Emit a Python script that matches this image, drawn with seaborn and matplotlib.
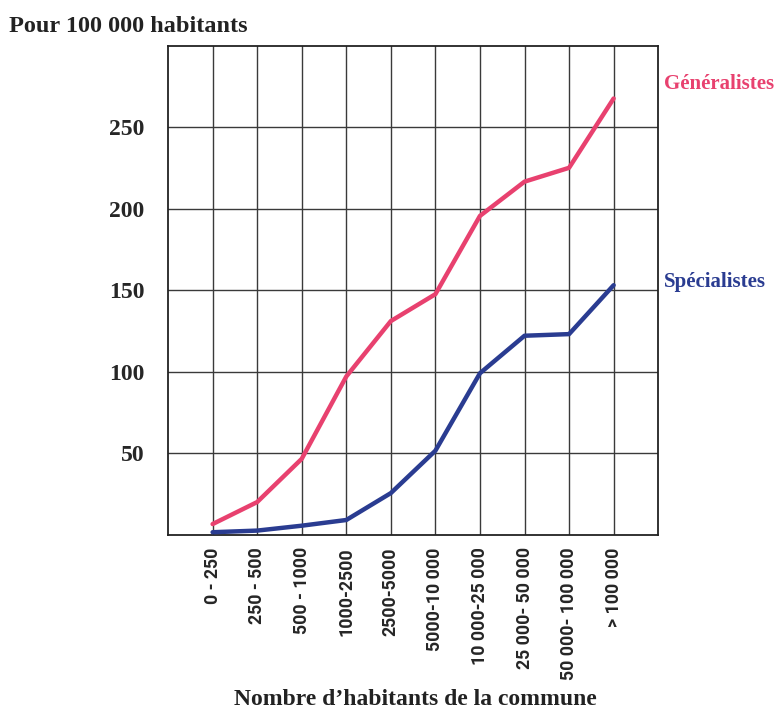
import matplotlib
matplotlib.use("Agg")
import matplotlib.pyplot as plt
import seaborn as sns
import pandas as pd

# Commune size classes (inhabitants)
categories = ["0 - 250", "250 - 500", "500 - 1000", "1000-2500", "2500-5000",
              "5000-10 000", "10 000-25 000", "25 000- 50 000",
              "50 000- 100 000", "> 100 000"]

# Doctors per 100 000 inhabitants
generalistes = [6.5, 20, 46.5, 97, 131, 147.5, 195.5, 216.5, 225, 267.5]
specialistes = [1.5, 2.5, 5.5, 9, 25.5, 51.5, 99, 122, 123, 153]

series_names = ["Généralistes", "Spécialistes"]
colors = {"Généralistes": "#E8416F", "Spécialistes": "#2A3C91"}

y_ticks = [50, 100, 150, 200, 250]

df = pd.DataFrame({
    "classe": categories * 2,
    "pos": list(range(len(categories))) * 2,
    "valeur": generalistes + specialistes,
    "type": [series_names[0]] * len(categories) + [series_names[1]] * len(categories),
})

sns.set_theme(style="white")
serif = ["Liberation Serif", "DejaVu Serif"]
narrow = ["Roboto", "DejaVu Sans"]

fig = plt.figure(figsize=(7.78, 7.11), dpi=100)
ax = fig.add_axes([0.216, 0.248, 0.630, 0.688])

sns.lineplot(data=df, x="pos", y="valeur", hue="type", palette=colors,
             linewidth=3.2, sort=False, legend=False, ax=ax, zorder=3)

ax.set_xlim(-1, len(categories))
ax.set_ylim(0, 300)
ax.set_xticks(range(len(categories)))
ax.set_xticklabels(categories, rotation=90, fontfamily=narrow,
                   fontweight="bold", fontsize=12.8, va="top")
ax.set_yticks(y_ticks)
ax.set_yticklabels([str(v) for v in y_ticks], fontfamily=serif,
                   fontweight="bold", fontsize=17)
ax.tick_params(axis="x", length=0, pad=9)
ax.tick_params(axis="y", length=0, pad=17)

ax.grid(True, color="#3a3a3a", linewidth=1.0)
for s in ax.spines.values():
    s.set_visible(True)
    s.set_color("#222222")
    s.set_linewidth(1.3)

ax.set_xlabel("")
ax.set_ylabel("")

fig.text(0.534, 0.016, "Nombre d\u2019habitants de la commune", fontfamily=serif,
         fontweight="bold", fontsize=17, ha="center", va="center",
         color="#222222")

fig.text(0.012, 0.963, "Pour 100 000 habitants", fontfamily=serif,
         fontweight="bold", fontsize=17.5, ha="left", va="center", color="#222222")

# Series labels at the right of the chart
fig.text(0.854, 0.882, "Généralistes", fontfamily=serif, fontweight="bold",
         fontsize=15, color=colors["Généralistes"], ha="left", va="center")
fig.text(0.854, 0.604, "Spécialistes", fontfamily=serif, fontweight="bold",
         fontsize=15, color=colors["Spécialistes"], ha="left", va="center")

fig.savefig("out.png", dpi=100)
